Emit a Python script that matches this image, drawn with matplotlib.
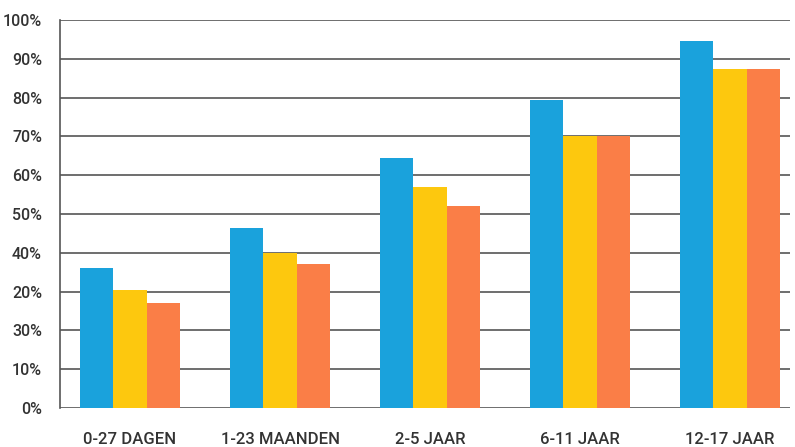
import numpy as np
import matplotlib
matplotlib.use("Agg")
import matplotlib.pyplot as plt

categories = ["0-27 DAGEN", "1-23 MAANDEN", "2-5 JAAR", "6-11 JAAR", "12-17 JAAR"]
blue_vals = [36, 46.5, 64.5, 79.5, 94.5]
yellow_vals = [30.5, 40, 57, 70, 87.5]
orange_vals = [27, 37, 52, 70, 87.5]
y_ticks = [0, 10, 20, 30, 40, 50, 60, 70, 80, 90, 100]
# the original labels 20% and 30% swapped
y_labels = ["0%", "10%", "30%", "20%", "40%", "50%", "60%", "70%", "80%", "90%", "100%"]

colors = ["#1aa2dc", "#fdc80e", "#fa7e47"]

plt.rcParams['font.family'] = ['Roboto', 'DejaVu Sans']

fig = plt.figure(figsize=(7.95, 4.47), dpi=100)
ax = fig.add_axes([60 / 795, (447 - 408) / 447, 730 / 795, 388 / 447])

x = np.arange(len(categories))
w = 0.222
for i, (vals, c) in enumerate(zip([blue_vals, yellow_vals, orange_vals], colors)):
    ax.bar(x + (i - 1) * w, vals, width=w, color=c, zorder=3)

ax.set_xlim(-0.467, 4.4)
ax.set_ylim(0, 100)
ax.set_yticks(y_ticks)
ax.set_yticklabels(y_labels, fontweight="medium")
ax.yaxis.grid(True, color="#555555", linewidth=1.2, zorder=1)
ax.set_xticks(x)
ax.set_xticklabels(categories, fontweight="medium")

for s in ["top", "right", "bottom"]:
    ax.spines[s].set_visible(False)
ax.spines["left"].set_color("#555555")
ax.spines["left"].set_linewidth(1.2)

ax.tick_params(axis="y", length=0, pad=13, labelsize=11.5, labelcolor="#333333")
ax.tick_params(axis="x", length=0, pad=17, labelsize=12, labelcolor="#333333")

fig.savefig("out.png", dpi=100)
